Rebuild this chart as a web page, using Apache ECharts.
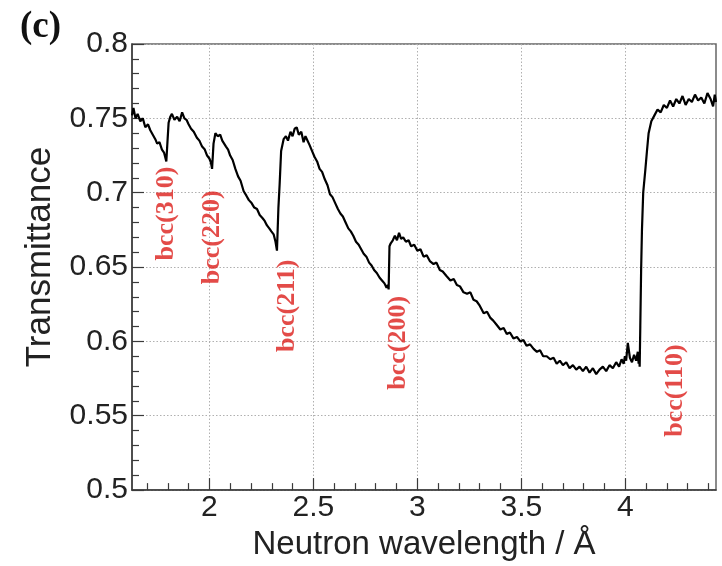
<!DOCTYPE html>
<html>
<head>
<meta charset="utf-8">
<script src="https://cdn.jsdelivr.net/npm/echarts@6/dist/echarts.min.js"></script>
<style>
  html, body { margin: 0; padding: 0; background: #fff; }
  #chart { width: 722px; height: 566px; }
</style>
</head>
<body>
<div id="chart"></div>
<script>
// Neutron transmission spectrum with bcc Bragg edges
const wavelength = [
  1.628, 1.635, 1.645, 1.655, 1.668, 1.680, 1.692, 1.705, 1.716, 1.728, 1.740, 1.749, 1.760, 1.772, 1.782, 1.793,
  1.798, 1.804, 1.812, 1.820, 1.832, 1.845, 1.857, 1.869, 1.880, 1.890, 1.900, 1.912, 1.925, 1.940, 1.952, 1.965, 1.978, 1.989, 2.000, 2.008, 2.013,
  2.020, 2.029, 2.040, 2.052, 2.062, 2.069, 2.080, 2.090, 2.100, 2.112, 2.125, 2.138, 2.150, 2.165, 2.178, 2.190, 2.203, 2.216, 2.229, 2.242, 2.255, 2.266, 2.277, 2.288, 2.298, 2.309, 2.318, 2.325,
  2.332, 2.338, 2.345, 2.357, 2.368, 2.378, 2.390, 2.400, 2.410, 2.420, 2.430, 2.442, 2.453, 2.462, 2.470, 2.482, 2.494, 2.506, 2.518, 2.530, 2.542, 2.555, 2.568, 2.580, 2.592, 2.605, 2.618, 2.630, 2.642, 2.655, 2.668, 2.680, 2.692, 2.705, 2.718, 2.730, 2.742, 2.755, 2.768, 2.780, 2.792, 2.805, 2.818, 2.830, 2.842, 2.852, 2.858, 2.862,
  2.866, 2.872, 2.882, 2.892, 2.902, 2.912, 2.922, 2.932, 2.945, 2.958, 2.970, 2.985, 3.000, 3.015, 3.030, 3.045, 3.060, 3.078, 3.092, 3.108, 3.122, 3.140, 3.159, 3.175, 3.190, 3.205, 3.222, 3.239, 3.255, 3.270, 3.285, 3.300, 3.319, 3.335, 3.350, 3.365, 3.382, 3.399, 3.415, 3.430, 3.445, 3.462, 3.479, 3.495, 3.510, 3.525, 3.542, 3.559, 3.575, 3.590, 3.605, 3.622, 3.639, 3.655, 3.670, 3.685, 3.700, 3.716, 3.732, 3.748, 3.764, 3.780, 3.796, 3.812, 3.828, 3.844, 3.860, 3.876, 3.892, 3.908, 3.924, 3.940, 3.956, 3.970, 3.982, 3.992, 3.998, 4.004, 4.012, 4.022, 4.032, 4.042, 4.052, 4.060, 4.064,
  4.067, 4.069, 4.072, 4.076, 4.080, 4.086, 4.096, 4.104, 4.112, 4.125, 4.140, 4.155, 4.170, 4.185, 4.200, 4.215, 4.230, 4.245, 4.260, 4.275, 4.290, 4.305, 4.320, 4.335, 4.350, 4.365, 4.380, 4.395, 4.410, 4.422, 4.430, 4.436
];
const transmittance = [
  0.752, 0.757, 0.750, 0.753, 0.748, 0.750, 0.744, 0.746, 0.742, 0.739, 0.736, 0.733, 0.734, 0.729, 0.727, 0.721,
  0.733, 0.747, 0.751, 0.753, 0.749, 0.751, 0.748, 0.754, 0.750, 0.749, 0.746, 0.743, 0.741, 0.737, 0.735, 0.731, 0.729, 0.725, 0.723, 0.720, 0.716,
  0.733, 0.740, 0.738, 0.739, 0.735, 0.736, 0.731, 0.729, 0.725, 0.722, 0.716, 0.711, 0.708, 0.701, 0.698, 0.695, 0.693, 0.690, 0.689, 0.685, 0.683, 0.681, 0.678, 0.676, 0.674, 0.672, 0.667, 0.661,
  0.690, 0.706, 0.728, 0.736, 0.738, 0.735, 0.741, 0.738, 0.743, 0.744, 0.739, 0.741, 0.734, 0.738, 0.737, 0.732, 0.728, 0.724, 0.721, 0.716, 0.714, 0.709, 0.705, 0.699, 0.697, 0.693, 0.689, 0.686, 0.684, 0.680, 0.676, 0.674, 0.671, 0.667, 0.665, 0.662, 0.659, 0.657, 0.653, 0.651, 0.648, 0.646, 0.643, 0.641, 0.639, 0.636, 0.638, 0.635,
  0.664, 0.666, 0.668, 0.671, 0.668, 0.673, 0.669, 0.670, 0.667, 0.668, 0.664, 0.665, 0.661, 0.662, 0.657, 0.658, 0.654, 0.652, 0.653, 0.648, 0.647, 0.644, 0.641, 0.642, 0.638, 0.637, 0.633, 0.632, 0.633, 0.628, 0.627, 0.624, 0.619, 0.620, 0.616, 0.614, 0.611, 0.608, 0.609, 0.605, 0.606, 0.602, 0.603, 0.600, 0.601, 0.597, 0.598, 0.595, 0.593, 0.594, 0.590, 0.590, 0.588, 0.589, 0.585, 0.587, 0.584, 0.586, 0.582, 0.584, 0.581, 0.583, 0.580, 0.583, 0.579, 0.582, 0.578, 0.581, 0.583, 0.580, 0.584, 0.582, 0.586, 0.583, 0.588, 0.585, 0.590, 0.587, 0.599, 0.589, 0.586, 0.591, 0.587, 0.593, 0.585, 0.589, 0.583,
  0.610, 0.648, 0.675, 0.700, 0.715, 0.728, 0.740, 0.748, 0.752, 0.756, 0.754, 0.759, 0.757, 0.762, 0.758, 0.763, 0.760, 0.765, 0.759, 0.763, 0.761, 0.766, 0.762, 0.764, 0.760, 0.767, 0.763, 0.758, 0.766, 0.761, 0.768, 0.763
];

// Bragg edge annotations
const peakNames = ['bcc(310)', 'bcc(220)', 'bcc(211)', 'bcc(200)', 'bcc(110)'];
const peakX = [1.792, 2.013, 2.374, 2.910, 4.238];
const peakY = [0.686, 0.670, 0.624, 0.599, 0.5670];

// Axis tick positions
const xMajorTicks = [2, 2.5, 3, 3.5, 4];
const xMinorTicks = [1.7, 1.8, 1.9, 2.1, 2.2, 2.3, 2.4, 2.6, 2.7, 2.8, 2.9, 3.1, 3.2, 3.3, 3.4, 3.6, 3.7, 3.8, 3.9, 4.1, 4.2, 4.3, 4.4];
const xRange = [1.628, 4.436];
const yRange = [0.5, 0.8];
const yStep = 0.05;

const chart = echarts.init(document.getElementById('chart'), null, { renderer: 'canvas' });

const axisColor = '#3a3a3a';
const gridLineStyle = { color: '#b0b0b0', width: 1, type: [1.5, 2] };
const sansFont = 'Liberation Sans, Arial, sans-serif';

chart.setOption({
  animation: false,
  backgroundColor: '#fff',
  grid: {
    left: 132, right: 6, top: 44, bottom: 71,
    show: true, borderColor: '#666', borderWidth: 1.5, backgroundColor: 'transparent'
  },
  graphic: [{
    type: 'text', left: 20, top: 9,
    style: { text: '(c)', fill: '#111', font: 'bold 37px "Liberation Serif", "Times New Roman", serif' }
  }],
  xAxis: [{
    // minor ticks
    type: 'value', min: xRange[0], max: xRange[1], position: 'bottom',
    axisLine: { show: true, lineStyle: { color: axisColor, width: 1.5 } },
    axisTick: { show: true, inside: true, length: 7, customValues: xMinorTicks, lineStyle: { color: axisColor, width: 1.2 } },
    axisLabel: { show: false },
    splitLine: { show: false }
  }, {
    // major ticks, labels and grid
    type: 'value', min: xRange[0], max: xRange[1], position: 'bottom',
    name: 'Neutron wavelength / Å', nameLocation: 'middle', nameGap: 28,
    nameTextStyle: { fontFamily: sansFont, fontSize: 33, color: '#222' },
    axisLine: { show: false },
    axisTick: { show: true, inside: true, length: 12, customValues: xMajorTicks, lineStyle: { color: axisColor, width: 1.2 } },
    axisLabel: { show: true, customValues: xMajorTicks, margin: 3, fontFamily: sansFont, fontSize: 30, color: '#222' },
    splitLine: { show: true, lineStyle: gridLineStyle }
  }],
  yAxis: {
    type: 'value', min: yRange[0], max: yRange[1], interval: yStep,
    name: 'Transmittance', nameLocation: 'middle', nameGap: 74,
    nameTextStyle: { fontFamily: sansFont, fontSize: 35, color: '#222', padding: [0, 0, 0, 20] },
    axisLine: { show: true, lineStyle: { color: axisColor, width: 1.5 } },
    axisTick: { show: true, inside: true, length: 12, lineStyle: { color: axisColor, width: 1.2 } },
    minorTick: { show: true, splitNumber: 5, length: 7, lineStyle: { color: axisColor, width: 1.2 } },
    axisLabel: { margin: 4, fontFamily: sansFont, fontSize: 30, color: '#222' },
    splitLine: { show: true, lineStyle: gridLineStyle }
  },
  series: [{
    type: 'line',
    xAxisIndex: 0,
    data: wavelength.map((w, i) => [w, transmittance[i]]),
    showSymbol: false,
    lineStyle: { color: '#000', width: 2.2 },
    z: 3
  }, {
    type: 'scatter',
    xAxisIndex: 0,
    data: peakX.map((x, i) => [x, peakY[i]]),
    symbolSize: 1,
    itemStyle: { color: 'rgba(0,0,0,0)' },
    label: {
      show: true, position: 'inside', rotate: 90,
      formatter: p => peakNames[p.dataIndex],
      color: '#dc1e1a', fontFamily: '"Liberation Serif", "Times New Roman", serif',
      fontWeight: 'bold', fontSize: 26
    },
    z: 4
  }]
});
</script>
</body>
</html>
